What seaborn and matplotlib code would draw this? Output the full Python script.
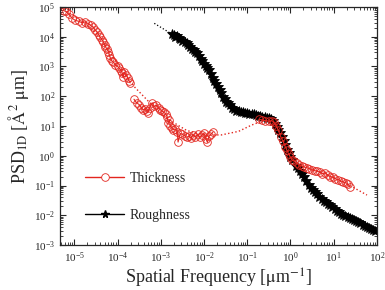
import numpy as np
import pandas as pd
import matplotlib
matplotlib.use("Agg")
import matplotlib.pyplot as plt
from matplotlib.lines import Line2D
import seaborn as sns

# log10 of spatial frequency / PSD
thick_seg = [1] * 36 + [2] * 43 + [3] * 38
thick_logx = [
    -5.25, -5.2, -5.12, -5.05, -4.98, -4.9, -4.82, -4.75, -4.68, -4.62, -4.56, -4.52,
    -4.47, -4.43, -4.4, -4.36, -4.33, -4.3, -4.28, -4.24, -4.21, -4.19, -4.17, -4.14,
    -4.1, -4.05, -4.0, -3.96, -3.92, -3.89, -3.87, -3.84, -3.8, -3.76, -3.73, -3.71,
    -3.62, -3.56, -3.5, -3.45, -3.41, -3.37, -3.33, -3.3, -3.26, -3.2, -3.15, -3.1,
    -3.05, -3.01, -2.97, -2.93, -2.88, -2.85, -2.83, -2.8, -2.78, -2.74, -2.71, -2.66,
    -2.62, -2.6, -2.55, -2.5, -2.45, -2.4, -2.35, -2.3, -2.25, -2.2, -2.15, -2.1,
    -2.05, -2.0, -1.96, -1.92, -1.88, -1.84, -1.79,
    -0.72, -0.65, -0.58, -0.5, -0.43, -0.38, -0.33, -0.28, -0.22, -0.17, -0.12, -0.08,
    -0.04, 0.0, 0.04, 0.09, 0.14, 0.2, 0.26, 0.32, 0.38, 0.44, 0.5, 0.56,
    0.62, 0.68, 0.74, 0.8, 0.86, 0.92, 0.98, 1.04, 1.1, 1.16, 1.22, 1.28,
    1.33, 1.37,
]
thick_logy = [
    4.88, 4.85, 4.75, 4.62, 4.55, 4.52, 4.47, 4.5, 4.44, 4.38, 4.32, 4.22,
    4.16, 4.05, 3.98, 3.9, 3.82, 3.72, 3.66, 3.58, 3.5, 3.38, 3.3, 3.2,
    3.15, 3.05, 3.0, 2.94, 2.86, 2.78, 2.65, 2.8, 2.72, 2.6, 2.5, 2.45,
    1.9, 1.78, 1.72, 1.62, 1.54, 1.58, 1.5, 1.45, 1.62, 1.78, 1.66, 1.7,
    1.6, 1.55, 1.5, 1.46, 1.4, 1.3, 1.1, 1.2, 1.0, 0.93, 0.88, 0.9,
    0.8, 0.46, 0.75, 0.72, 0.68, 0.62, 0.66, 0.6, 0.7, 0.64, 0.72, 0.62,
    0.7, 0.76, 0.58, 0.45, 0.68, 0.72, 0.8,
    1.22, 1.2, 1.18, 1.16, 1.18, 1.12, 1.0, 0.85, 0.62, 0.48, 0.3, 0.18,
    0.05, -0.05, -0.14, -0.18, -0.24, -0.3, -0.34, -0.38, -0.4, -0.44, -0.48, -0.5,
    -0.52, -0.55, -0.6, -0.57, -0.64, -0.7, -0.72, -0.77, -0.8, -0.84, -0.88, -0.9,
    -0.95, -1.05,
]

rough_seg = [1] * 65 + [2] * 38
rough_logx = [
    -2.75, -2.7, -2.66, -2.62, -2.58, -2.55, -2.5, -2.45, -2.4, -2.36, -2.32, -2.28,
    -2.24, -2.2, -2.16, -2.12, -2.08, -2.04, -2.0, -1.96, -1.92, -1.88, -1.84, -1.8,
    -1.76, -1.72, -1.68, -1.64, -1.6, -1.56, -1.52, -1.48, -1.44, -1.4, -1.35, -1.3,
    -1.25, -1.2, -1.15, -1.1, -1.05, -1.0, -0.95, -0.9, -0.85, -0.8, -0.75, -0.7,
    -0.65, -0.6, -0.55, -0.5, -0.45, -0.4, -0.36, -0.32, -0.28, -0.24, -0.2, -0.16,
    -0.12, -0.08, -0.04, 0.0, 0.04,
    0.12, 0.17, 0.22, 0.27, 0.32, 0.37, 0.42, 0.47, 0.52, 0.57, 0.62, 0.67,
    0.72, 0.77, 0.82, 0.87, 0.92, 0.97, 1.02, 1.07, 1.12, 1.17, 1.22, 1.27,
    1.32, 1.37, 1.42, 1.47, 1.52, 1.57, 1.62, 1.67, 1.72, 1.77, 1.82, 1.87,
    1.92, 1.95,
]
rough_logy = [
    4.1, 4.05, 4.0, 4.02, 3.97, 3.93, 3.85, 3.82, 3.78, 3.72, 3.66, 3.6,
    3.55, 3.5, 3.44, 3.35, 3.26, 3.18, 3.1, 3.02, 2.95, 2.88, 2.75, 2.6,
    2.5, 2.4, 2.3, 2.2, 2.1, 1.98, 1.9, 1.82, 1.76, 1.7, 1.62, 1.56,
    1.52, 1.5, 1.48, 1.46, 1.45, 1.43, 1.42, 1.4, 1.4, 1.38, 1.35, 1.33,
    1.31, 1.3, 1.28, 1.26, 1.22, 1.18, 1.08, 0.98, 0.87, 0.76, 0.64, 0.5,
    0.36, 0.2, 0.08, -0.04, -0.15,
    -0.35, -0.42, -0.5, -0.6, -0.72, -0.85, -0.97, -1.07, -1.15, -1.22, -1.3, -1.37,
    -1.45, -1.52, -1.57, -1.62, -1.67, -1.73, -1.8, -1.86, -1.9, -1.95, -1.98, -2.02,
    -2.06, -2.09, -2.12, -2.16, -2.2, -2.24, -2.27, -2.32, -2.36, -2.4, -2.43, -2.46,
    -2.5, -2.52,
]

# dotted model fits
thick_fit_logx = [-5.25, -4.8, -4.4, -4.0, -3.6, -3.2, -2.8, -2.4, -2.0, -1.6, -1.2,
                  -0.9, -0.6, -0.35, -0.2, 0.0, 0.2, 0.6, 1.0, 1.4, 1.77]
thick_fit_logy = [4.92, 4.5, 4.0, 3.1, 2.3, 1.7, 1.2, 0.85, 0.7, 0.7, 0.82,
                  1.03, 1.2, 1.12, 0.65, -0.05, -0.3, -0.5, -0.75, -1.02, -1.32]
rough_fit_logx = [-3.15, -2.7, -2.2, -1.8, -1.4, -1.0, -0.5, -0.3, 0.0, 0.4, 1.0, 1.95]
rough_fit_logy = [4.45, 4.05, 3.5, 2.6, 1.72, 1.43, 1.26, 0.95, -0.1, -0.95, -1.78, -2.52]

RED = "#e3261f"

sns.set_style("ticks")
plt.rcParams["font.family"] = ["Liberation Serif", "DejaVu Serif"]
plt.rcParams["mathtext.fontset"] = "stix"

thick = pd.DataFrame({"x": 10 ** np.array(thick_logx), "y": 10 ** np.array(thick_logy), "seg": thick_seg})
rough = pd.DataFrame({"x": 10 ** np.array(rough_logx), "y": 10 ** np.array(rough_logy), "seg": rough_seg})
tfit = pd.DataFrame({"x": 10 ** np.array(thick_fit_logx), "y": 10 ** np.array(thick_fit_logy)})
rfit = pd.DataFrame({"x": 10 ** np.array(rough_fit_logx), "y": 10 ** np.array(rough_fit_logy)})

fig = plt.figure(figsize=(3.85, 2.9), dpi=100)
ax = fig.add_axes([0.156, 0.155, 0.823, 0.821])
ax.set(xscale="log", yscale="log")

sns.lineplot(data=rfit, x="x", y="y", ax=ax, color="black", linestyle=":", linewidth=0.9,
             estimator=None, sort=False)
sns.lineplot(data=rough, x="x", y="y", units="seg", ax=ax, color="black", linewidth=2.0,
             marker="*", markersize=7, markeredgecolor="black", markeredgewidth=0.6,
             estimator=None, sort=False)
sns.lineplot(data=tfit, x="x", y="y", ax=ax, color=RED, linestyle=":", linewidth=1.0,
             estimator=None, sort=False)
sns.lineplot(data=thick, x="x", y="y", units="seg", ax=ax, color=RED, linewidth=0.8,
             marker="o", markersize=5.5, markerfacecolor="none", markeredgecolor=RED,
             markeredgewidth=0.6, estimator=None, sort=False)

ax.set_xlim(10 ** -5.33, 1e2)
ax.set_ylim(1e-3, 1e5)
ax.set_xticks([10.0 ** k for k in range(-5, 3)])
ax.set_yticks([10.0 ** k for k in range(-3, 6)])
ax.tick_params(which="both", direction="in", top=True, right=True, labelsize=8)
ax.tick_params(which="major", length=4, width=0.8)
ax.tick_params(which="minor", length=2, width=0.6)
for s in ax.spines.values():
    s.set_linewidth(0.9)

ax.set_xlabel(r"Spatial Frequency [$\mathrm{\mu}$m$^{-1}$]", fontsize=13, labelpad=2)
ax.set_ylabel(r"PSD$_{\mathrm{1D}}$ [$\mathrm{\AA}^{2}$ $\mathrm{\mu}$m]", fontsize=13, labelpad=2)

handles = [
    Line2D([], [], color=RED, linewidth=1.0, marker="o", markersize=5.5,
           markerfacecolor="white", markeredgecolor=RED, markeredgewidth=0.6),
    Line2D([], [], color="black", linewidth=1.0, marker="*", markersize=5.5),
]
ax.legend(handles, ["Thickness", "Roughness"], loc="lower left", bbox_to_anchor=(0.04, 0.045),
          frameon=False, fontsize=10, handlelength=2.8, labelspacing=1.7, handletextpad=0.4)

fig.savefig("out.png", dpi=100)
